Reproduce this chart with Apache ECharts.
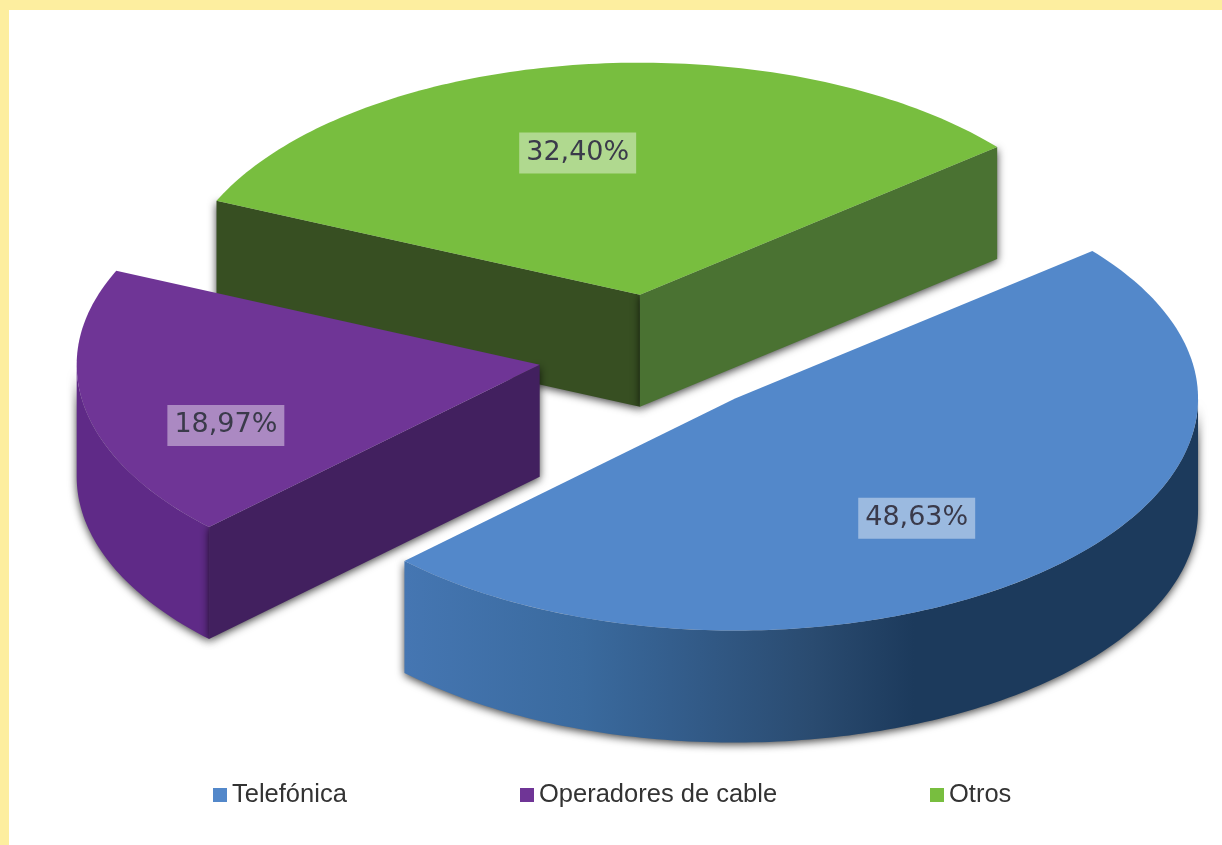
<!DOCTYPE html>
<html><head><meta charset="utf-8">
<style>html,body{margin:0;padding:0;background:#fdee9f}#c{width:1222px;height:845px;filter:blur(0.5px)}</style>
<script src="https://cdn.jsdelivr.net/npm/echarts@6/dist/echarts.min.js"></script>
</head><body><div id="c"></div>
<script>
const categories = ['Telefónica', 'Operadores de cable', 'Otros'];
const values = [48.63, 18.97, 32.40];
const topColors = ['#5388ca', '#6f3596', '#78be3f'];
const wallColors = [
  [[0, '#4576b2'], [0.35, '#3a6a9e'], [0.55, '#335c8a'], [0.8, '#2a4b70'], [1, '#1c3a5c']],
  [[0, '#5f2a87'], [1, '#5f2a87']],
  [[0, '#4a7232'], [1, '#4a7232']]
];
const startFaceColors = ['#1c3a5c', '#42205f', '#374f22'];
const endFaceColors = ['#1c3a5c', '#42205f', '#4a7232'];
const legendLefts = [213, 520, 930];
const labelRadius = [0.645, 0.725, 0.63];
const labelShift = [4.5, -10.5, -4.5];

const cx = 656, cy = 354, rx = 463, ry = 232, depth = 112, explode = 0.257, startAngle = -39.5;
const total = values.reduce((a, b) => a + b, 0);
const rad = d => d * Math.PI / 180;

function slice(i) {
  let a0 = startAngle;
  for (let k = 0; k < i; k++) a0 += values[k] / total * 360;
  const a1 = a0 + values[i] / total * 360, mid = (a0 + a1) / 2;
  return { a0, a1, mid,
    x: cx + explode * 460 * Math.cos(rad(mid)),
    y: cy + explode * 233 * Math.sin(rad(mid)) };
}
function arc(s, from, to, dz) {
  const pts = [], n = Math.max(2, Math.ceil(Math.abs(to - from)));
  for (let k = 0; k <= n; k++) {
    const a = rad(from + (to - from) * k / n);
    pts.push([s.x + rx * Math.cos(a), s.y + ry * Math.sin(a) + dz]);
  }
  return pts;
}
function gradient(stops, x0, x1) {
  return { type: 'linear', x: x0, y: 0, x2: x1, y2: 0, global: true,
    colorStops: stops.map(p => ({ offset: p[0], color: p[1] })) };
}
function renderSlice(i, params, api) {
  const s = slice(i), kids = [];
  const shadow = { shadowBlur: 9, shadowColor: 'rgba(0,0,0,0.75)', shadowOffsetY: 2 };
  const w0 = Math.max(s.a0, 0), w1 = Math.min(s.a1, 180);
  if (w1 > w0) {
    const top = arc(s, w0, w1, 0), bottom = arc(s, w1, w0, depth);
    const xs = top.map(p => p[0]), x0 = Math.min(...xs), x1 = Math.min(x0 + 510, Math.max(...xs));
    kids.push({ type: 'polygon', shape: { points: top.concat(bottom) },
      style: Object.assign({ fill: gradient(wallColors[i], x0, x1) }, shadow) });
  }
  const face = (a, color) => {
    const p = arc(s, a, a, 0)[0];
    kids.push({ type: 'polygon', shape: { points: [[s.x, s.y], p, [p[0], p[1] + depth], [s.x, s.y + depth]] },
      style: Object.assign({ fill: color }, shadow) });
  };
  if (Math.cos(rad(s.a0)) < 0) face(s.a0, startFaceColors[i]);
  if (Math.cos(rad(s.a1)) > 0) face(s.a1, endFaceColors[i]);
  kids.push({ type: 'polygon', shape: { points: [[s.x, s.y]].concat(arc(s, s.a0, s.a1, 0)) },
    style: { fill: topColors[i] } });
  const la = rad(s.mid + labelShift[i]);
  kids.push({ type: 'text', x: s.x + labelRadius[i] * rx * Math.cos(la), y: s.y + labelRadius[i] * ry * Math.sin(la) + 1,
    style: { text: api.value(0).toFixed(2).replace('.', ',') + '%', font: '27px "DejaVu Sans"', fill: '#3a3a4a',
      align: 'center', verticalAlign: 'middle', backgroundColor: 'rgba(255,255,255,0.42)', padding: [7, 7, 7, 7] } });
  return { type: 'group', children: kids };
}

const chart = echarts.init(document.getElementById('c'), null, { renderer: 'canvas' });
chart.setOption({
  animation: false,
  backgroundColor: '#fdee9f',
  graphic: [{ type: 'rect', z: -10, shape: { x: 9, y: 10, width: 1213, height: 835 }, style: { fill: '#ffffff' } }],
  legend: categories.map((c, i) => ({
    data: [c], left: legendLefts[i], top: 782, icon: 'rect', itemWidth: 14, itemHeight: 14, itemGap: 6,
    selectedMode: false, padding: 0,
    textStyle: { fontFamily: 'Liberation Sans', fontSize: 25.5, color: '#333333' }
  })),
  series: [2, 1, 0].map(i => ({
    type: 'custom', name: categories[i], coordinateSystem: 'none', silent: true,
    itemStyle: { color: topColors[i] },
    data: [[values[i]]],
    renderItem: (params, api) => renderSlice(i, params, api)
  }))
});
</script></body></html>
